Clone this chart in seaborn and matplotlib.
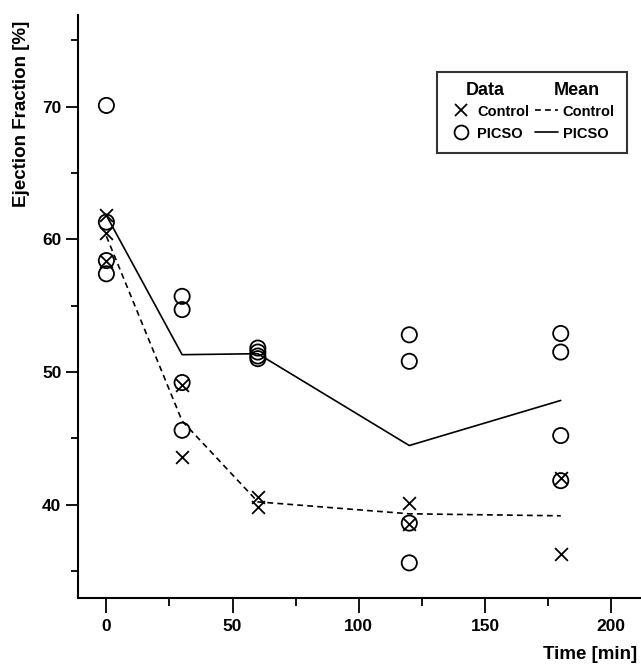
import matplotlib
matplotlib.use("Agg")
import matplotlib.pyplot as plt
from matplotlib.lines import Line2D
from matplotlib.ticker import MultipleLocator
import seaborn as sns
import pandas as pd

# ---- data ----
control_time = [0, 0, 0, 30, 30, 60, 60, 120, 120, 180, 180]
control_ef = [61.8, 60.5, 58.4, 49.0, 43.6, 40.6, 39.8, 40.1, 38.5, 42.0, 36.3]
picso_time = [0, 0, 0, 0, 30, 30, 30, 30, 60, 60, 60, 60, 120, 120, 120, 120, 180, 180, 180, 180]
picso_ef = [70.1, 61.3, 58.4, 57.4, 55.7, 54.7, 49.2, 45.6, 51.8, 51.5, 51.2, 51.0,
            52.8, 50.8, 38.6, 35.6, 52.9, 51.5, 45.2, 41.8]
x_ticks = [0, 50, 100, 150, 200]
y_ticks = [40, 50, 60, 70]

control = pd.DataFrame({"time": control_time, "ef": control_ef, "group": "Control"})
picso = pd.DataFrame({"time": picso_time, "ef": picso_ef, "group": "PICSO"})

sns.set_style("ticks")
plt.rcParams["font.family"] = ["Liberation Sans", "DejaVu Sans"]
plt.rcParams["font.weight"] = "bold"
for k in ["text.color", "axes.labelcolor", "xtick.color", "ytick.color", "axes.edgecolor"]:
    plt.rcParams[k] = "black"

fig = plt.figure(figsize=(6.41, 6.69), dpi=100)
ax = fig.add_axes([78 / 641, 71 / 669, 563 / 641, 583 / 669])

lw = 1.2
sns.lineplot(data=control, x="time", y="ef", estimator="mean", errorbar=None,
             color="black", linewidth=lw, ax=ax, dashes=False, linestyle=(0, (3.5, 2.5)))
sns.lineplot(data=picso, x="time", y="ef", estimator="mean", errorbar=None,
             color="black", linewidth=lw, ax=ax, linestyle="-")
sns.scatterplot(data=control, x="time", y="ef", marker="x", s=85, color="black",
                linewidth=1.3, ax=ax, zorder=3)
sns.scatterplot(data=picso, x="time", y="ef", marker="o", s=120, facecolors="none",
                edgecolor="black", linewidth=1.3, ax=ax, zorder=3)

ax.set_xlim(-11.25, 211.8)
ax.set_ylim(32.95, 76.92)
ax.set_xticks(x_ticks)
ax.set_yticks(y_ticks)
ax.xaxis.set_minor_locator(MultipleLocator(25))
ax.yaxis.set_minor_locator(MultipleLocator(5))
ax.tick_params(axis="both", which="major", labelsize=12.5, width=1.3, color="black",
               labelcolor="black")
ax.tick_params(axis="x", which="major", length=11, pad=4)
ax.tick_params(axis="y", which="major", length=9, pad=3)
ax.tick_params(axis="x", which="minor", length=5.5, width=1.3, color="black")
ax.tick_params(axis="y", which="minor", length=5, width=1.3, color="black")
for lab in ax.get_xticklabels() + ax.get_yticklabels():
    lab.set_fontweight("bold")

sns.despine(ax=ax)
for sp in ["left", "bottom"]:
    ax.spines[sp].set_linewidth(1.5)
    ax.spines[sp].set_color("black")

ax.set_xlabel("Time [min]", fontsize=13.5, fontweight="bold", loc="right", color="black")
ax.set_ylabel("Ejection Fraction [%]", fontsize=13.5, fontweight="bold", loc="top", color="black")
ax.xaxis.set_label_coords(0.993, -0.082)
ax.yaxis.set_label_coords(-0.085, 0.99)

handles = [
    Line2D([], [], marker="x", color="black", linestyle="none", markersize=8, markeredgewidth=1.3),
    Line2D([], [], marker="o", color="black", markerfacecolor="none", linestyle="none",
           markersize=10, markeredgewidth=1.3),
    Line2D([], [], color="black", linewidth=lw, linestyle=(0, (3.5, 2.5))),
    Line2D([], [], color="black", linewidth=lw, linestyle="-"),
]
labels = ["Control", "PICSO", "Control", "PICSO"]
leg = ax.legend(handles, labels, ncol=2, loc="upper right", bbox_to_anchor=(0.975, 0.902),
                borderaxespad=0, frameon=True, fancybox=False, title=" ", title_fontsize=9,
                prop={"weight": "bold", "size": 10.5}, handlelength=1.6,
                handletextpad=0.3, columnspacing=0.4, borderpad=0.85, labelspacing=0.55)
leg.get_frame().set_edgecolor("black")
leg.get_frame().set_linewidth(1.5)
for t in leg.get_texts():
    t.set_color("black")
ax.text(0.723, 0.871, "Data", transform=ax.transAxes, ha="center", va="center",
        fontsize=13, fontweight="bold", zorder=10, color="black")
ax.text(0.886, 0.871, "Mean", transform=ax.transAxes, ha="center", va="center",
        fontsize=13, fontweight="bold", zorder=10, color="black")

fig.savefig("out.png", dpi=100)
